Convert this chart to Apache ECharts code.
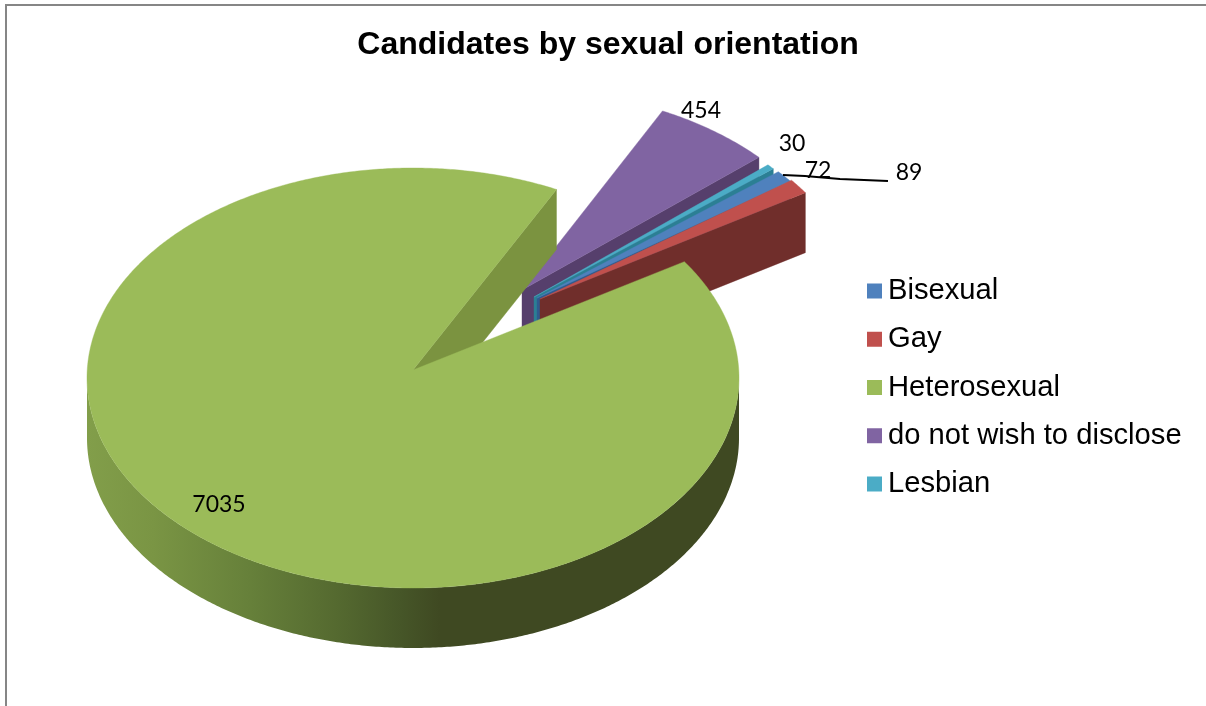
<!DOCTYPE html>
<html>
<head>
<meta charset="utf-8">
<style>html,body{margin:0;padding:0;background:#fff}#chart{width:1206px;height:706px}</style>
<script src="https://cdn.jsdelivr.net/npm/echarts@6/dist/echarts.min.js"></script>
</head>
<body>
<div id="chart"></div>
<script>
// Chart values
const categories = ['Bisexual', 'Gay', 'Heterosexual', 'do not wish to disclose', 'Lesbian'];
const candidates = [72, 89, 7035, 454, 30];
const topColors = ['#4f81bd', '#c0504d', '#9bbb59', '#8064a2', '#4bacc6'];
const wallColors = ['#2f5a8e', '#702e2b', '#7b9340', '#563f6c', '#2b7f94'];

// Projection of the tilted disc: ellipse radii, extrusion depth, first slice bearing
const RX = 326, RY = 210, DEPTH = 60, FIRST_BEARING = 48.8;

// Painter's order, exploded centres, wedge tips and label anchors per slice
const placement = [
  { z: 4, cx: 533, cy: 310, ax: 537, ay: 298, lx: 818, ly: 171 },
  { z: 5, cx: 534, cy: 309, ax: 540, ay: 299, lx: 909, ly: 173 },
  { z: 6, cx: 413, cy: 378, ax: 413, ay: 370, lx: 219, ly: 505 },
  { z: 2, cx: 519, cy: 299.5, ax: 522, ay: 290, lx: 701, ly: 111 },
  { z: 3, cx: 528, cy: 307, ax: 534, ay: 297, lx: 792, ly: 144 }
];

const total = candidates.reduce((a, b) => a + b, 0);
const startBearing = i =>
  FIRST_BEARING + candidates.slice(0, i).reduce((a, b) => a + b, 0) / total * 360;

function rimPoint(p, deg) {
  const r = deg * Math.PI / 180;
  return [p.cx + RX * Math.sin(r), p.cy - RY * Math.cos(r)];
}

function rimPoints(p, from, to) {
  const pts = [];
  const steps = Math.max(2, Math.ceil(Math.abs(to - from) * 2));
  for (let k = 0; k <= steps; k++) pts.push(rimPoint(p, from + (to - from) * k / steps));
  return pts;
}

const drop = pts => pts.map(q => [q[0], q[1] + DEPTH]);
const poly = (points, fill) => ({
  type: 'polygon',
  shape: { points },
  style: { fill, stroke: fill, lineWidth: 0.4 }
});

// The outer wall of the large slice is shaded from left to right across the disc
const wallShade = new echarts.graphic.LinearGradient(87, 0, 740, 0, [
  { offset: 0, color: '#829e4a' },
  { offset: 0.1, color: '#7a9544' },
  { offset: 0.25, color: '#66803a' },
  { offset: 0.38, color: '#556a30' },
  { offset: 0.48, color: '#465628' },
  { offset: 0.54, color: '#3f4922' },
  { offset: 1, color: '#3f4922' }
], true);

function renderSlice(params, api) {
  const i = params.seriesIndex;
  const p = placement[i];
  const value = api.value(0);
  const from = startBearing(i);
  const to = from + value / total * 360;
  const apex = [p.ax, p.ay];
  const rim = rimPoints(p, from, to);
  const children = [];

  // Cut face along the clockwise edge of the slice
  const edge = rimPoint(p, to);
  children.push(poly([apex, edge, [edge[0], edge[1] + DEPTH], [apex[0], apex[1] + DEPTH]], wallColors[i]));

  if (value / total > 0.5) {
    // Only the large slice shows its curved front wall
    const front = rimPoints(p, 90, 270);
    children.push({
      type: 'polygon',
      shape: { points: front.concat(drop(front).reverse()) },
      style: { fill: wallShade }
    });
  }

  children.push(poly([apex].concat(rim), topColors[i]));

  if (categories[i] === 'Gay') {
    // Leader line running from the blue and red tips to the outlying label
    children.push({
      type: 'polyline',
      shape: { points: [[783, 175], [805, 176], [840, 179], [888, 181]] },
      style: { stroke: '#000', lineWidth: 2, fill: null }
    });
  }

  children.push({
    type: 'text',
    style: {
      x: p.lx, y: p.ly, text: String(value),
      font: '23px Lato', fill: '#000', align: 'center', verticalAlign: 'middle'
    }
  });

  return { type: 'group', children };
}

const chart = echarts.init(document.getElementById('chart'), null, { renderer: 'canvas' });
chart.setOption({
  animation: false,
  backgroundColor: '#fff',
  title: {
    text: 'Candidates by sexual orientation',
    left: 603, top: 24, textAlign: 'center',
    textStyle: { fontFamily: 'Liberation Sans', fontSize: 32, fontWeight: 'bold', color: '#000' }
  },
  legend: {
    orient: 'vertical', left: 862, top: 271,
    data: categories,
    icon: 'rect', itemWidth: 15, itemHeight: 15, itemGap: 18.25,
    selectedMode: false,
    textStyle: { fontFamily: 'Liberation Sans', fontSize: 29.2, color: '#000', lineHeight: 30, padding: [0, 0, 0, 1] }
  },
  graphic: [{
    type: 'rect',
    shape: { x: 6, y: 5, width: 1260, height: 760 },
    style: { fill: null, stroke: '#868686', lineWidth: 2 },
    silent: true
  }],
  series: categories.map((name, i) => ({
    type: 'custom',
    name,
    coordinateSystem: 'none',
    z: placement[i].z,
    silent: true,
    itemStyle: { color: topColors[i] },
    renderItem: renderSlice,
    data: [[candidates[i]]]
  }))
});
</script>
</body>
</html>
